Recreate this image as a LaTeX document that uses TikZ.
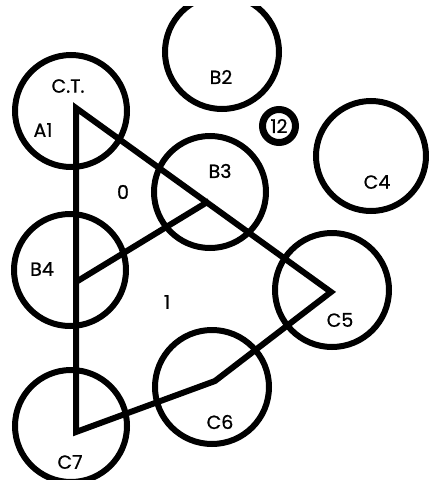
\documentclass[tikz,border=0pt]{standalone}
\usepackage{fontspec}
\newfontfamily\seatfont[FakeBold=0.8]{Poppins}
\begin{document}
\begin{tikzpicture}[x=1pt, y=-1pt,
    every node/.style={font=\seatfont\fontsize{19}{21}\selectfont},
    seat/.style={draw, circle, line width=6pt, inner sep=0pt, minimum size=#1},
    link/.style={line width=6pt, line join=miter}]
  \useasboundingbox (0,0) rectangle (429,480);
  \clip (0,6) rectangle (429,480);
  % seats
  \node[seat=112pt] (A1) at (71,111) {};
  \node[seat=114pt] (B2) at (222,52) {};
  \node[seat=112pt] (B3) at (210,192) {};
  \node[seat=110pt] (C4) at (371,156) {};
  \node[seat=112pt] (B4) at (70,270) {};
  \node[seat=114pt] (C5) at (332,290) {};
  \node[seat=114pt] (C6) at (212,387) {};
  \node[seat=112pt] (C7) at (71,426) {};
  \node[draw, circle, line width=7pt, inner sep=0pt, minimum size=33pt] (T12) at (279,126) {12};
  % labels
  \node (lCT) at (68,86) {C.T.};
  \node (lA1) at (43,130) {A1};
  \node (lB2) at (221,77) {B2};
  \node (lB3) at (220,171) {B3};
  \node (lC4) at (377,182) {C4};
  \node (lB4) at (42,269) {B4};
  \node (lC5) at (340,320) {C5};
  \node (lC6) at (220,422) {C6};
  \node (lC7) at (70,462) {C7};
  \node (l0) at (123,192) {0};
  \node (l1) at (167,302) {1};
  % path
  \coordinate (pA) at (76,108);
  \coordinate (pC) at (76,432);
  \coordinate (pR) at (331,292);
  \coordinate (pK) at (215,381);
  \coordinate (pB3) at (209,201);
  \coordinate (pB4) at (76,282);
  \draw[link] (pC) -- (pA) -- (pR) -- (pK) -- cycle;
  \draw[link] (pB4) -- (pB3);
\end{tikzpicture}
\end{document}
